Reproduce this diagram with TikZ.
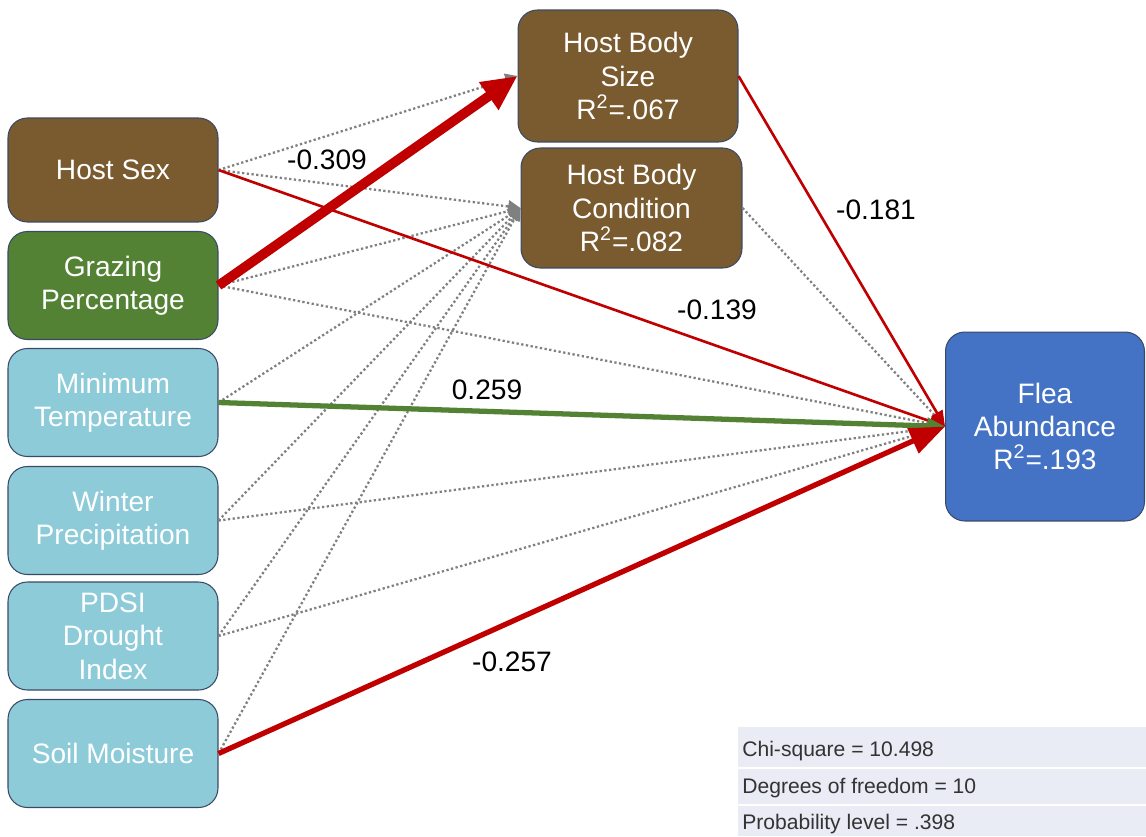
\documentclass[tikz,border=0pt]{standalone}
\usepackage{fontspec}
\setmainfont{Liberation Sans}
\usetikzlibrary{arrows.meta}
\definecolor{brownbox}{HTML}{7A5A2F}
\definecolor{greenbox}{HTML}{548235}
\definecolor{aquabox}{HTML}{8DCBD9}
\definecolor{bluebox}{HTML}{4472C4}
\definecolor{boxedge}{HTML}{3A4A66}
\definecolor{redline}{HTML}{C00000}
\definecolor{greenline}{HTML}{548235}
\definecolor{dotgray}{HTML}{808080}
\definecolor{tablebg}{HTML}{E9EBF5}
\begin{document}
\begin{tikzpicture}[x=0.02cm,y=-0.02cm,
  box/.style={rectangle, rounded corners=11pt, draw=boxedge, line width=0.6pt, text=white, align=center, font=\fontsize{16}{19}\selectfont, inner sep=0pt},
  leftbox/.style={box, minimum width=4.2cm, minimum height=2.16cm},
  dotarrow/.style={draw=dotgray, line width=1.3pt, dash pattern=on 1.3pt off 1.4pt, -{Triangle[length=7pt,width=7pt]}},
  redarrow/.style={draw=redline, line width=1.5pt, -{Triangle[length=9pt,width=7pt]}},
  coef/.style={font=\fontsize{16}{19}\selectfont, text=black},
  tabtext/.style={font=\fontsize{12}{14}\selectfont, text=black!80, anchor=west, inner sep=0pt}
]
\useasboundingbox (0,0) rectangle (1146,836);

% nodes
\node[leftbox, fill=brownbox, minimum height=2.08cm] (sex) at (113,170) {Host Sex};
\node[leftbox, fill=greenbox] (graz) at (113,285.5) {Grazing\\Percentage};
\node[leftbox, fill=aquabox] (mint) at (113,402.5) {Minimum\\Temperature};
\node[leftbox, fill=aquabox] (wint) at (113,520.5) {Winter\\Precipitation};
\node[leftbox, fill=aquabox] (pdsi) at (113,636) {PDSI\\Drought\\Index};
\node[leftbox, fill=aquabox] (soil) at (113,753.5) {Soil Moisture};
\node[box, fill=brownbox, minimum width=4.4cm, minimum height=2.64cm] (hbs) at (628,76) {Host Body\\Size\\R\textsuperscript{2}=.067};
\node[box, fill=brownbox, minimum width=4.42cm, minimum height=2.4cm] (hbc) at (631.5,208) {Host Body\\Condition\\R\textsuperscript{2}=.082};
\node[box, fill=bluebox, minimum width=3.98cm, minimum height=3.78cm] (flea) at (1045,426.5) {Flea\\Abundance\\R\textsuperscript{2}=.193};

% dotted paths
\draw[dotarrow] (sex.east) -- (hbs.west);
\draw[dotarrow] (sex.east) -- (hbc.west);
\draw[dotarrow] (graz.east) -- (hbc.west);
\draw[dotarrow] (graz.east) -- (flea.west);
\draw[dotarrow] (mint.east) -- (hbc.west);
\draw[dotarrow] (wint.east) -- (hbc.west);
\draw[dotarrow] (wint.east) -- (flea.west);
\draw[dotarrow] (pdsi.east) -- (hbc.west);
\draw[dotarrow] (pdsi.east) -- (flea.west);
\draw[dotarrow] (soil.east) -- (hbc.west);
\draw[dotarrow] (hbc.east) -- (flea.west);

% significant paths
\draw[redarrow] (sex.east) -- (flea.west);
\draw[redarrow] (hbs.east) -- (flea.west);
\draw[draw=greenline, line width=3pt, -{Triangle[length=10pt,width=9pt]}] (mint.east) -- (flea.west);
\draw[draw=redline, line width=3pt, -{Triangle[length=20pt,width=15pt]}] (soil.east) -- (flea.west);
\draw[draw=redline, line width=5.5pt, -{Triangle[length=20pt,width=18pt]}] (graz.east) -- (hbs.west);

% coefficients
\node[coef] (c1) at (327,160) {-0.309};
\node[coef] (c2) at (876,210) {-0.181};
\node[coef] (c3) at (717,310) {-0.139};
\node[coef] (c4) at (487,390) {0.259};
\node[coef] (c5) at (512,662) {-0.257};

% fit table
\fill[tablebg] (738,727) rectangle (1146,836);
\draw[white, line width=1.2pt] (738,768) -- (1146,768);
\draw[white, line width=1.2pt] (738,805) -- (1146,805);
\node[tabtext] (t1) at (742,751) {Chi-square = 10.498};
\node[tabtext] (t2) at (742,788) {Degrees of freedom = 10};
\node[tabtext] (t3) at (742,824) {Probability level = .398};
\end{tikzpicture}
\end{document}
